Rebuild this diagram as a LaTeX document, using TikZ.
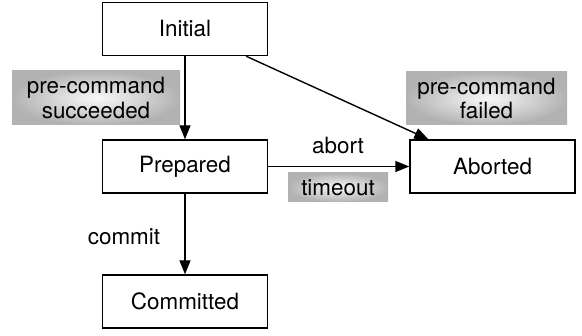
\documentclass[tikz,border=0pt]{standalone}
\usepackage{fontspec}
\setmainfont{TeX Gyre Heros}
\usetikzlibrary{arrows.meta}
\tikzset{
  state/.style={draw,rectangle,line width=1.4bp,minimum width=165bp,minimum height=53bp,inner sep=0pt},
  cond/.style={rectangle,shading=radial,inner color=gray!5,outer color=gray!60,inner sep=0pt,align=center},
}
\begin{document}
\begin{tikzpicture}[>={Triangle[length=14bp,width=11bp]},line width=1.4bp,font=\fontsize{22.5}{25}\selectfont]
\useasboundingbox (0bp,0bp) rectangle (582bp,336bp);
%%
\node (Initial) at (185bp,307bp) [state] {Initial};
  \node (Prepared) at (185bp,169.5bp) [state] {Prepared};
  \node (Committed) at (185bp,34.5bp) [state] {Committed};
  \node (Aborted) at (492.5bp,169.5bp) [state] {Aborted};
  \node (PreOk) at (96bp,238bp) [cond,minimum width=168bp,minimum height=54bp] {pre-command\\succeeded};
  \node (PreFail) at (486.5bp,237.5bp) [cond,minimum width=161bp,minimum height=53bp] {pre-command\\failed};
  \node (Timeout) at (338bp,148.5bp) [cond,minimum width=100bp,minimum height=29bp] {timeout};
  \node (Abort) at (338bp,191bp) {abort};
  \node (Commit) at (124bp,99bp) {commit};
  \draw [->] (Initial) -- (Prepared);
  \draw [->] (Initial.-24.2) -- (Aborted.157);
  \draw [->] (Prepared) -- (Aborted);
  \draw [->] (Prepared) -- (Committed);
%
\end{tikzpicture}
\end{document}
